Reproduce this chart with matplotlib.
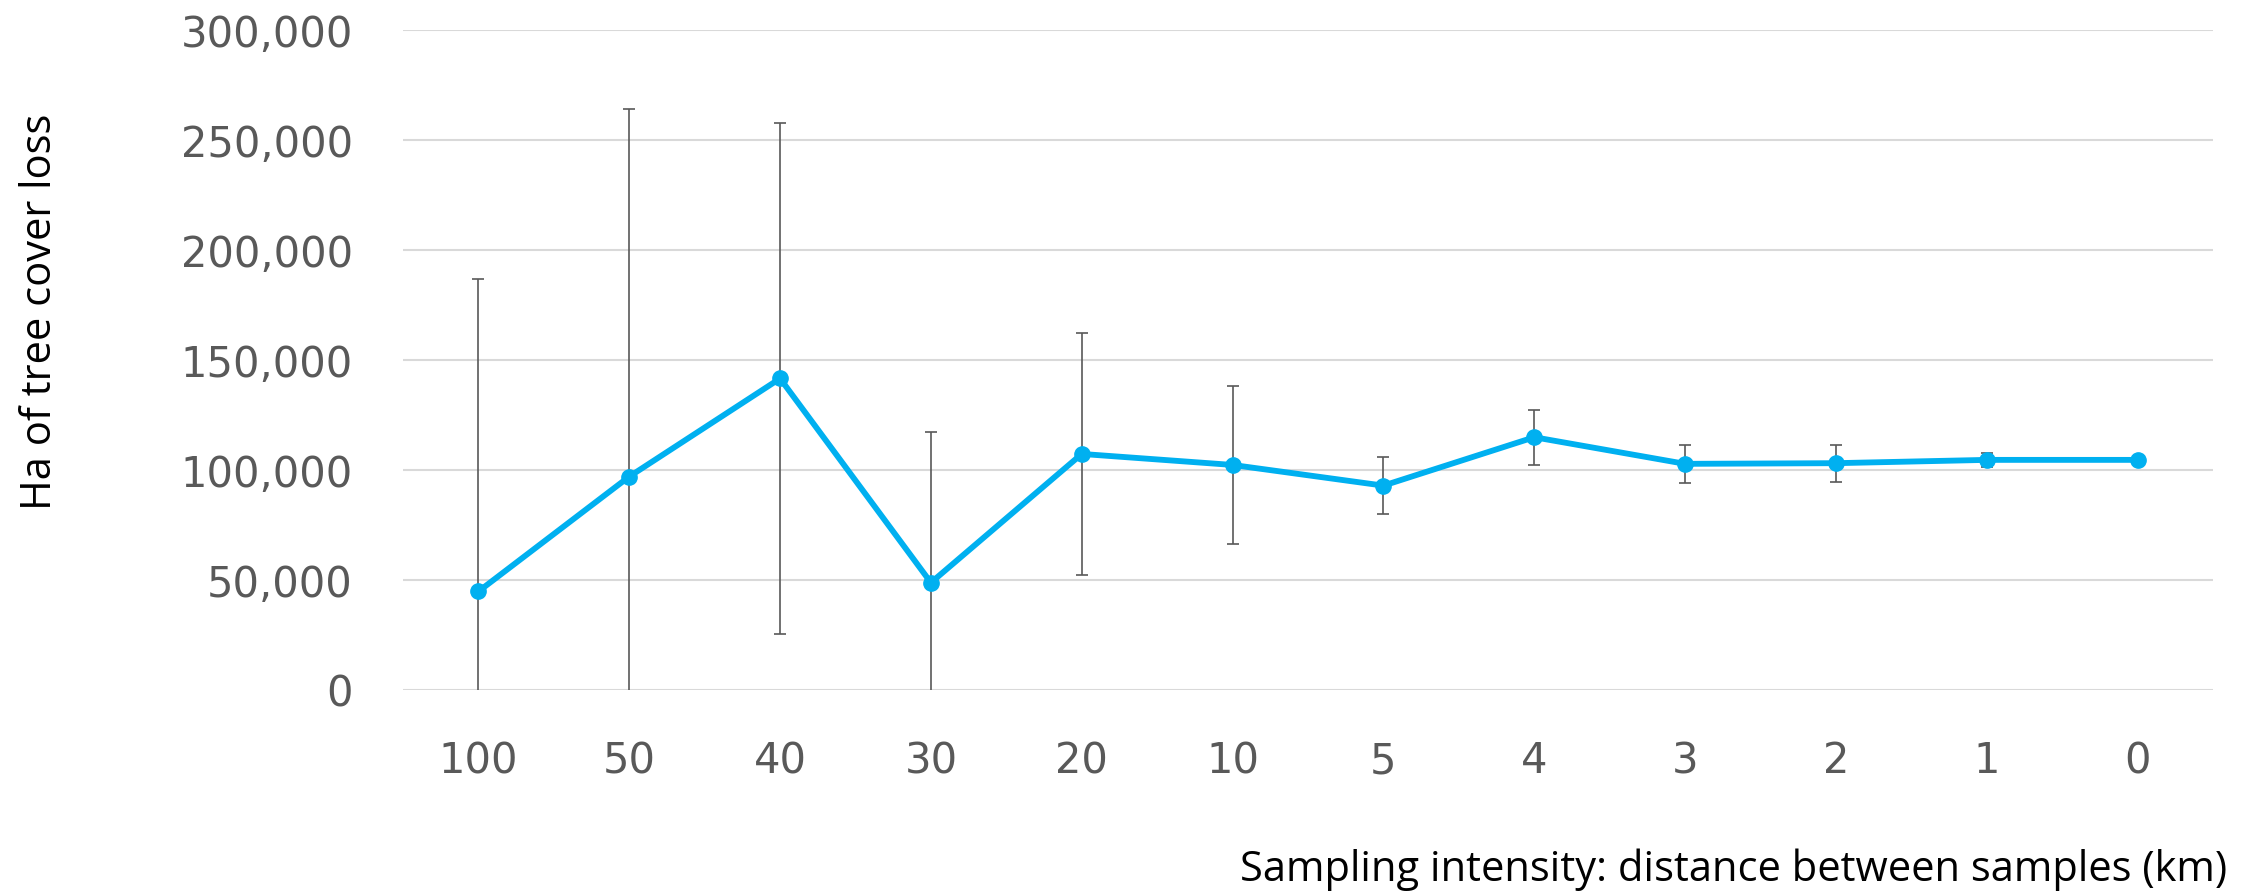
import numpy as np
import matplotlib
matplotlib.use('Agg')
import matplotlib.pyplot as plt
from matplotlib.ticker import FuncFormatter

# distance between samples (km) and estimated tree cover loss (ha)
categories = ['100', '50', '40', '30', '20', '10', '5', '4', '3', '2', '1', '0']
loss_ha = [44800, 97000, 141600, 48800, 107300, 102300, 92900, 114900, 102800, 103100, 104600, 104600]
error_ha = [142000, 167000, 116000, 68700, 55000, 36000, 12800, 12600, 8700, 8400, 3300, np.nan]

y_ticks = [0, 50000, 100000, 150000, 200000, 250000, 300000]

fig = plt.figure(figsize=(22.57, 8.93), dpi=100)
ax = fig.add_axes([403 / 2257, 1 - 690 / 893, 1810 / 2257, 660 / 893])

x = np.arange(len(categories))

# error bars first, line with markers on top
ax.errorbar(x, loss_ha, yerr=error_ha, fmt='none', ecolor='#595959',
            elinewidth=1.2, capsize=4.5, capthick=1.2, zorder=3)
ax.plot(x, loss_ha, color='#00B0F0', linewidth=4.2, marker='o',
        markersize=11, zorder=4)

ax.set_xlim(-0.5, len(categories) - 0.5)
ax.set_ylim(0, 300000)
ax.set_yticks(y_ticks)
ax.yaxis.set_major_formatter(FuncFormatter(lambda v, p: f'{int(v):,}'))
ax.set_xticks(x)
ax.set_xticklabels(categories)

ax.grid(axis='y', color='#D9D9D9', linewidth=1.5)
ax.set_axisbelow(True)
for s in ax.spines.values():
    s.set_visible(False)
ax.tick_params(axis='both', length=0)
ax.tick_params(axis='y', labelsize=30, labelcolor='#595959', pad=36)
ax.tick_params(axis='x', labelsize=30, labelcolor='#595959', pad=36)

fig.text(40 / 2257, 1 - 312 / 893, 'Ha of tree cover loss', rotation=90,
         ha='center', va='center', fontsize=30, family='Open Sans', color='black')
fig.text(2227 / 2257, 1 - 870 / 893, 'Sampling intensity: distance between samples (km)',
         ha='right', va='center', fontsize=30, family='Open Sans', color='black')

fig.savefig('out.png', dpi=100)
